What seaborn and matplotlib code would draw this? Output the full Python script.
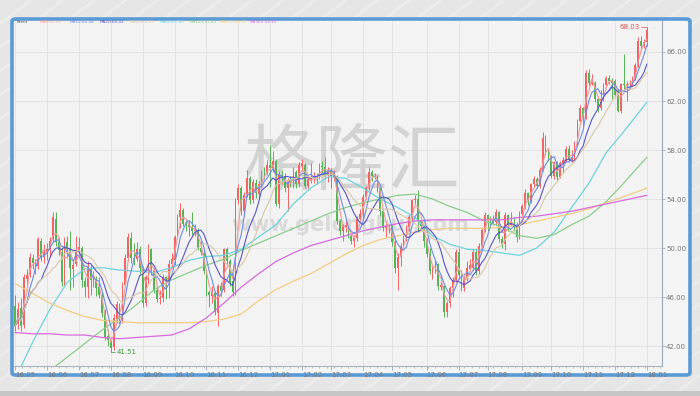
import numpy as np
import pandas as pd
import matplotlib
matplotlib.use('Agg')
import matplotlib.pyplot as plt
import seaborn as sns
from matplotlib.patches import FancyBboxPatch, Rectangle
from matplotlib.lines import Line2D
from matplotlib.ticker import MultipleLocator, FormatStrFormatter

# Candles, two trading days per bar (May 2016 - Jan 2018)
opens = [
    45.3, 43.8, 45.1, 43.7, 47.5, 47.9, 49.2, 48.8, 48.5, 50.6, 49.3,
    49.6, 49.8, 50.7, 52.4, 50.5, 49.7, 47.3, 50.5, 50.0, 48.3, 48.7,
    49.8, 50.0, 47.3, 46.8, 48.4, 47.4, 47.5, 46.8, 46.1, 44.8, 42.8,
    42.4, 41.9, 44.2, 45.3, 44.1, 47.0, 49.2, 50.8, 49.2, 49.1, 49.9,
    48.3, 45.5, 47.5, 49.9, 48.2, 46.6, 45.8, 45.9, 47.6, 47.3, 48.7,
    49.0, 50.9, 52.5, 53.1, 52.0, 51.9, 51.7, 51.4, 51.4, 50.0, 49.6,
    48.0, 46.4, 46.1, 46.3, 44.7, 46.9, 46.6, 49.9, 48.9, 47.3, 46.4,
    53.9, 54.9, 53.0, 54.4, 55.7, 53.9, 55.3, 54.4, 55.2, 56.2, 56.1,
    56.8, 56.5, 57.1, 53.6, 56.0, 55.9, 54.9, 55.5, 55.4, 56.2, 55.2,
    56.7, 56.8, 55.1, 55.5, 55.6, 55.9, 55.8, 56.7, 56.6,
    56.0, 56.4, 55.8, 55.9, 52.2, 51.4, 51.7, 51.8, 51.0, 50.6, 50.8, 52.4,
    52.8, 54.2, 54.9, 56.2, 56.0, 55.9, 54.9, 53.0, 51.6, 51.8,
    51.7, 50.5, 48.4, 49.3, 50.2, 50.8, 51.7, 52.5, 53.9, 54.0, 52.2,
    51.8, 50.6, 49.5, 48.1, 48.2, 48.7, 46.8, 46.9, 44.8, 45.5, 46.7,
    47.4, 49.7, 47.8, 46.7, 47.5, 48.3, 48.4, 49.7, 48.1, 50.2, 51.5,
    52.7, 52.5, 52.4, 52.1, 52.9, 50.7, 50.3, 52.7, 51.9, 52.0, 51.9, 50.9,
    52.8, 53.4, 54.5, 53.8, 55.2, 55.6, 55.1, 56.4, 59.0, 57.9,
    57.5, 55.9, 57.0, 55.8, 56.9, 57.2, 58.1, 57.2, 57.4, 58.4, 60.4,
    61.4, 60.6, 64.3, 63.4, 63.5, 62.2, 61.4, 62.2, 63.3, 63.9, 63.7,
    63.6, 62.5, 61.2, 63.4, 63.2, 63.3, 63.4, 63.8, 64.9, 66.9, 66.5, 66.8,
]
closes = [
    43.6, 45.0, 43.6, 47.6, 47.8, 49.3, 48.8, 48.4, 50.7, 49.3, 49.7,
    49.9, 50.6, 52.5, 50.5, 49.8, 47.2, 50.6, 49.9, 48.4, 48.6, 49.7,
    50.1, 47.4, 46.8, 48.5, 47.4, 47.6, 46.7, 46.2, 44.7, 42.7, 42.5,
    41.8, 44.3, 45.4, 44.1, 47.0, 49.2, 50.9, 49.2, 49.1, 49.9, 48.4,
    45.5, 47.6, 50.0, 48.3, 46.6, 45.8, 45.9, 47.6, 47.3, 48.7, 49.1,
    50.9, 52.5, 53.1, 52.0, 51.9, 51.7, 51.4, 51.5, 50.0, 49.7, 48.1,
    46.4, 46.2, 46.4, 44.8, 46.9, 46.5, 49.9, 48.9, 47.2, 46.4, 53.9,
    54.9, 53.0, 54.3, 55.7, 53.9, 55.4, 54.5, 55.2, 56.1, 56.0, 56.8,
    56.5, 57.1, 53.6, 56.0, 55.9, 54.9, 55.5, 55.4, 56.2, 55.2, 56.8,
    56.9, 55.1, 55.6, 55.7, 55.8, 55.7, 56.7, 56.6, 56.0,
    56.4, 55.9, 56.0, 52.2, 51.4, 51.8, 51.9, 51.0, 50.6, 50.8, 52.4, 52.8,
    54.2, 54.9, 56.2, 55.9, 55.8, 54.9, 53.0, 51.6, 51.8, 51.7,
    50.5, 48.4, 49.3, 50.2, 50.8, 51.7, 52.5, 53.9, 54.0, 52.2, 51.8,
    50.6, 49.5, 48.1, 48.2, 48.7, 46.9, 47.0, 44.8, 45.5, 46.7, 47.4,
    49.7, 47.8, 46.7, 47.5, 48.4, 48.6, 49.7, 48.1, 50.2, 51.5, 52.7,
    52.4, 52.3, 52.1, 52.9, 50.7, 50.3, 52.7, 51.9, 52.0, 51.9, 50.9, 52.8,
    53.4, 54.5, 53.8, 55.2, 55.6, 55.1, 56.4, 59.0, 57.9, 57.5,
    55.9, 57.0, 55.8, 56.9, 57.2, 58.1, 57.2, 57.4, 58.4, 60.4, 61.4,
    60.6, 64.3, 63.5, 63.7, 62.2, 61.4, 62.2, 63.3, 63.9, 63.6, 63.5,
    62.5, 61.2, 63.4, 63.3, 63.4, 63.4, 63.8, 64.9, 66.9, 66.5, 66.8, 67.8,
]
highs = [
    46.2, 45.6, 45.9, 47.9, 48.3, 49.6, 49.5, 49.1, 50.9, 50.8, 50.3,
    50.4, 50.9, 52.9, 52.9, 50.9, 50.0, 50.9, 51.0, 51.4, 48.9, 51.0,
    50.9, 50.2, 47.6, 48.9, 48.6, 48.1, 47.7, 47.6, 46.3, 45.0, 43.4,
    42.6, 44.6, 45.7, 45.5, 47.2, 49.5, 51.2, 51.3, 50.4, 50.5, 50.2,
    48.5, 47.8, 50.3, 50.0, 48.4, 47.0, 46.6, 47.9, 47.7, 49.0, 49.6,
    51.1, 52.8, 53.7, 53.3, 52.4, 52.2, 52.9, 52.0, 51.6, 50.6, 49.8,
    48.2, 46.6, 46.9, 46.5, 47.1, 47.2, 50.0, 50.1, 49.1, 48.4, 54.1,
    55.2, 55.1, 54.6, 56.4, 55.9, 55.6, 55.6, 55.5, 56.4, 56.6, 57.2,
    58.4, 57.9, 57.3, 56.3, 56.4, 56.1, 55.7, 55.9, 56.6, 56.4, 57.0,
    57.3, 56.9, 55.9, 56.9, 56.2, 56.1, 56.9, 57.1, 57.4,
    56.6, 56.5, 56.4, 56.0, 52.4, 52.0, 52.4, 51.9, 51.2, 51.1, 52.6, 53.2,
    54.4, 55.1, 56.6, 56.4, 56.1, 56.0, 55.0, 53.2, 52.0, 52.0,
    51.9, 50.9, 49.6, 50.4, 51.1, 51.9, 52.7, 54.0, 54.3, 54.7, 52.5,
    51.9, 50.8, 50.0, 48.5, 49.0, 48.8, 47.6, 47.0, 45.7, 46.9, 47.6,
    49.9, 50.0, 48.2, 47.8, 48.9, 49.1, 49.9, 49.9, 50.4, 51.7, 52.9,
    52.8, 52.6, 52.7, 53.2, 53.0, 51.0, 52.9, 52.8, 52.9, 52.5, 52.1, 53.0,
    53.6, 54.8, 54.6, 55.3, 55.9, 55.8, 56.6, 59.5, 59.2, 58.1,
    57.6, 57.1, 57.1, 57.1, 57.4, 58.3, 58.4, 58.0, 58.7, 60.5, 61.7,
    61.5, 64.5, 64.6, 64.2, 63.6, 62.4, 62.9, 63.5, 64.0, 64.1, 63.9,
    63.8, 63.0, 63.5, 65.8, 63.6, 63.7, 64.0, 65.1, 67.2, 67.3, 67.1, 68.03,
]
lows = [
    43.2, 43.4, 43.2, 43.5, 47.0, 47.6, 48.3, 47.9, 48.3, 48.9, 48.8,
    49.0, 49.3, 50.5, 50.2, 49.4, 46.9, 47.0, 49.2, 46.6, 46.8, 48.5,
    49.4, 46.8, 46.0, 45.9, 46.2, 46.8, 46.1, 45.9, 44.4, 42.5, 42.0,
    41.51, 41.7, 43.9, 43.8, 43.9, 46.8, 48.9, 48.8, 48.6, 48.9, 47.9,
    45.2, 45.3, 47.1, 47.8, 46.3, 45.6, 45.4, 45.6, 45.8, 45.9, 48.4,
    48.6, 50.7, 51.6, 51.8, 51.4, 51.0, 51.1, 51.0, 49.8, 49.4, 47.9,
    46.1, 45.2, 45.5, 44.5, 43.6, 46.1, 46.4, 48.7, 46.9, 46.1, 46.2,
    53.6, 52.7, 52.8, 54.2, 53.6, 53.7, 54.1, 54.2, 55.0, 55.6, 56.0,
    55.0, 56.2, 53.4, 53.3, 55.2, 54.6, 53.0, 55.0, 54.9, 54.9, 55.0,
    56.3, 54.9, 54.9, 55.3, 55.3, 55.2, 55.6, 56.0, 55.8,
    55.4, 54.9, 55.5, 52.0, 51.1, 50.6, 51.3, 50.8, 50.3, 50.1, 50.6, 52.2,
    52.4, 54.0, 54.7, 55.5, 55.6, 54.6, 52.6, 51.4, 50.9, 51.2,
    50.2, 48.0, 46.6, 48.5, 50.0, 50.6, 51.4, 52.3, 53.6, 51.3, 51.5,
    50.1, 49.3, 47.9, 47.5, 48.0, 46.6, 46.6, 44.4, 44.4, 45.2, 46.0,
    47.2, 47.5, 46.5, 46.5, 47.3, 48.1, 48.2, 47.8, 47.9, 50.0, 51.3,
    51.4, 51.8, 51.9, 51.9, 50.5, 50.0, 49.8, 51.4, 51.8, 51.4, 50.5, 50.7,
    52.1, 53.2, 53.5, 53.7, 55.0, 54.9, 54.9, 56.3, 57.6, 57.1,
    55.7, 55.6, 55.5, 55.7, 56.1, 57.0, 57.0, 57.0, 57.2, 58.3, 60.3,
    60.0, 60.5, 63.2, 63.3, 61.9, 61.1, 61.3, 62.0, 63.1, 63.4, 62.2,
    62.3, 61.1, 61.0, 63.0, 62.0, 63.0, 63.2, 63.7, 64.8, 66.2, 66.3, 66.5,
]

# Slow averages, one value every 6 bars
ma_idx = list(range(0, 217, 6)) + [218]
ma60 = [39.3, 42.3, 45.0, 47.2, 48.3, 48.4, 48.2, 48.1, 48.0, 48.4, 49.0, 49.3, 49.4,
        49.9, 50.9, 51.9, 53.6, 54.9, 55.8, 55.7, 54.9, 54.0, 53.3, 52.5, 51.0, 50.3,
        49.9, 49.8, 49.6, 49.4, 50.0, 51.3, 53.3, 55.3, 57.8, 59.5, 61.3, 61.9]
ma120 = [37.8, 38.9, 40.0, 41.1, 42.2, 43.3, 44.3, 45.4, 46.6, 47.4, 48.0, 48.6, 49.1,
         49.8, 50.4, 51.0, 51.6, 52.2, 52.8, 53.3, 53.7, 54.0, 54.3, 54.4, 54.0, 53.4,
         52.9, 52.2, 51.7, 51.0, 50.8, 51.1, 51.9, 52.6, 53.8, 55.3, 56.9, 57.4]
ma250 = [47.1, 46.3, 45.5, 44.9, 44.4, 44.1, 44.0, 43.9, 43.9, 43.9, 43.9, 44.0, 44.2,
         44.6, 45.7, 46.6, 47.3, 47.9, 48.7, 49.5, 50.2, 50.7, 51.0, 51.3, 51.5, 51.6,
         51.6, 51.6, 51.7, 51.9, 52.2, 52.5, 52.8, 53.2, 53.7, 54.2, 54.7, 54.9]
ma_long = [43.1, 43.0, 43.0, 42.9, 42.9, 42.7, 42.6, 42.7, 42.8, 42.9, 43.4, 44.3, 45.5,
           46.8, 47.9, 48.9, 49.6, 50.2, 50.6, 51.0, 51.4, 51.7, 52.0, 52.2, 52.3, 52.3,
           52.3, 52.3, 52.3, 52.5, 52.6, 52.8, 53.0, 53.3, 53.6, 53.9, 54.2, 54.3]

o = np.array(opens)
c = np.array(closes)
h = np.array(highs)
l = np.array(lows)
x = np.arange(len(c))
dates = pd.bdate_range('2016-05-02', '2018-01-03')[::2][:len(c)]

# month ticks
months = dates.to_period('M')
tick_pos = [i for i in range(len(months)) if i == 0 or months[i] != months[i - 1]]
tick_lab = [dates[i].strftime('%y.%m') for i in tick_pos]

s = pd.Series(c)
short_ma = {
    'MA5': (s.rolling(3, min_periods=1).mean(), '#f29a9a'),
    'MA10': (s.rolling(5, min_periods=1).mean(), '#6d8ee6'),
    'MA20': (s.rolling(10, min_periods=1).mean(), '#5a55c8'),
    'MA30': (s.rolling(15, min_periods=1).mean(), '#d8c8a6'),
}
long_ma = {
    'MA60': (ma60, '#6dd3dc'),
    'MA120': (ma120, '#8ccc8c'),
    'MA250': (ma250, '#f2cd82'),
    'MA360': (ma_long, '#d86ade'),
}

sns.set_style('whitegrid')
plt.rcParams['font.family'] = ['DejaVu Sans', 'Noto Sans CJK SC']

fig = plt.figure(figsize=(7, 3.96), dpi=100)
fig.patch.set_facecolor('#e6e6e6')

# striped background + bottom band
for k in np.arange(-1.2, 1.3, 0.045):
    fig.add_artist(Line2D([k, k + 0.75], [0, 1], transform=fig.transFigure,
                          color='white', lw=1.6, alpha=0.3, zorder=-3))
fig.add_artist(Rectangle((0, 0), 1, 5 / 396, transform=fig.transFigure,
                         facecolor='#c6c6c6', edgecolor='none', zorder=-2))
fig.add_artist(FancyBboxPatch((12 / 700, 1 - 375 / 396), 678 / 700, 356 / 396,
                              boxstyle='round,pad=0,rounding_size=0.006',
                              transform=fig.transFigure, facecolor='#f5f5f5',
                              edgecolor='#5b9bd5', lw=2.6, zorder=-1))

ax = fig.add_axes([14 / 700, 30 / 396, 648 / 700, 345 / 396])
ax.set_zorder(2)
ax.set_facecolor('#f3f3f3')

# watermark
ax.text(0.522, 0.588, '格隆汇', transform=ax.transAxes, ha='center', va='center',
        fontsize=52, color='#b5b5b5', alpha=0.5, family=['Noto Sans CJK SC'], zorder=1)
ax.text(0.519, 0.409, 'www.gelonghui.com', transform=ax.transAxes, ha='center',
        va='center', fontsize=15, fontweight='bold', color='#bdbdbd', alpha=0.45, zorder=1)

# candles: red up, green down
up = c >= o
cols = np.where(up, '#f06464', '#55b455')
ax.vlines(x, l, h, colors=cols, lw=0.7, zorder=2)
ax.bar(x, np.maximum(np.abs(c - o), 0.08), bottom=np.minimum(o, c), width=0.6,
       color=cols, linewidth=0, zorder=2)

for name, (vals, col) in long_ma.items():
    sns.lineplot(x=ma_idx, y=vals, ax=ax, color=col, lw=0.9, zorder=3)
for name, (vals, col) in short_ma.items():
    sns.lineplot(x=x, y=vals.values, ax=ax, color=col, lw=0.8, zorder=3)

# high / low markers
lo_i = int(np.argmin(l))
ax.plot([lo_i, lo_i + 1.6], [l[lo_i]] * 2, color='#3c9a3c', lw=0.5, zorder=4)
ax.text(lo_i + 1.9, l[lo_i], f'{l[lo_i]:.2f}', color='#3c9a3c', fontsize=5,
        va='center', zorder=4)
hi_i = int(np.argmax(h))
ax.plot([hi_i - 2.2, hi_i], [h[hi_i]] * 2, color='#e05555', lw=0.5, zorder=4)
ax.text(hi_i - 2.5, h[hi_i], f'{h[hi_i]:.2f}', color='#e05555', fontsize=5,
        ha='right', va='center', zorder=4)

# tiny legend row at the top edge
names = list(short_ma) + list(long_ma)
last = [short_ma[n][0].iloc[-1] for n in short_ma] + [long_ma[n][0][-1] for n in long_ma]
lcols = [short_ma[n][1] for n in short_ma] + [long_ma[n][1] for n in long_ma]
fig.text(17 / 700, 1 - 22 / 396, 'Brent', fontsize=3, color='#555555', va='center',
         zorder=5)
for j, (n, v, col) in enumerate(zip(names, last, lcols)):
    fig.text((40 + j * 30) / 700, 1 - 22 / 396, f'{n}:{v:.2f}', fontsize=3,
             color=col, va='center', zorder=5)

ax.set_xlim(-0.4, 223.2)
ax.set_ylim(40.37, 68.53)
ax.set_xlabel('')
ax.set_ylabel('')

ax.set_xticks(tick_pos)
ax.set_xticklabels(tick_lab, ha='left')
ax.xaxis.set_minor_locator(MultipleLocator(2.5))
ax.set_yticks(np.arange(42, 67, 4))
ax.yaxis.set_major_formatter(FormatStrFormatter('%.2f'))
ax.yaxis.tick_right()
ax.tick_params(axis='x', which='major', bottom=True, length=3, width=0.6,
               color='#9aa8b8', labelsize=5, labelcolor='#777777', pad=1)
ax.tick_params(axis='x', which='minor', bottom=True, length=1.5, width=0.5,
               color='#9aa8b8')
ax.tick_params(axis='y', right=True, left=False, labelright=True, labelleft=False,
               length=2, width=0.6, color='#9aa8b8', labelsize=5,
               labelcolor='#777777', pad=1)
ax.grid(True, which='major', color='#e0e0e0', lw=0.6)
ax.grid(False, which='minor')
for side in ['top', 'left']:
    ax.spines[side].set_visible(False)
ax.spines['right'].set_color('#9aaabb')
ax.spines['right'].set_linewidth(0.8)
ax.spines['bottom'].set_color('#a8b4c0')
ax.spines['bottom'].set_linewidth(0.8)

fig.savefig('out.png', dpi=100, facecolor=fig.get_facecolor())
